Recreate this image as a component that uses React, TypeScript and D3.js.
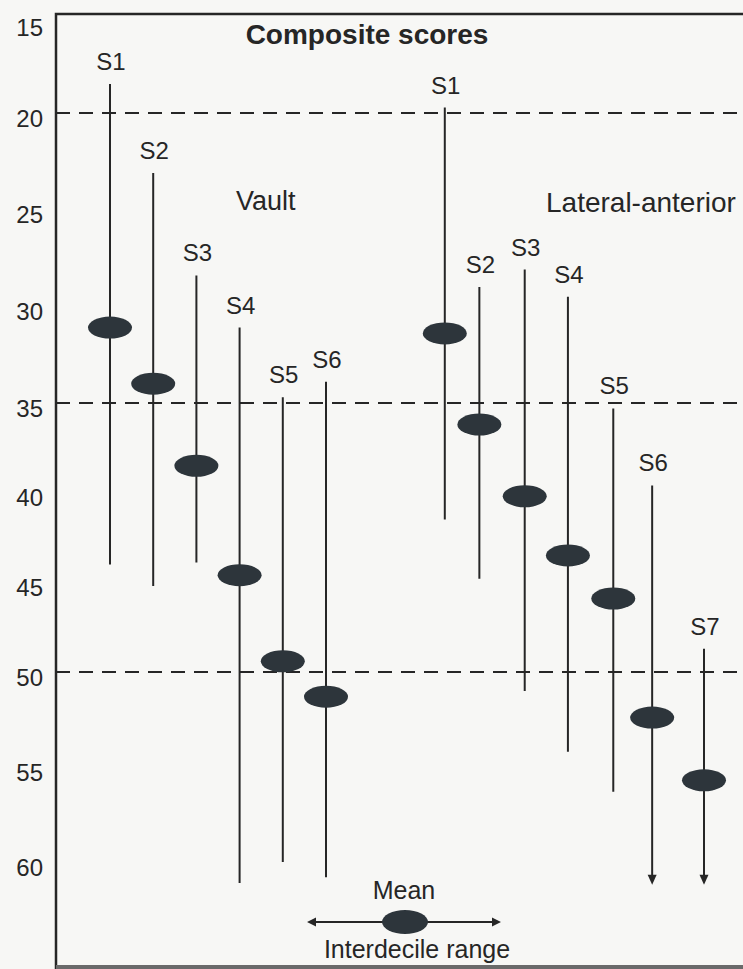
import React, { useRef, useEffect } from "react";
import * as d3 from "d3";

// Vault group
const vaultNames = ["S1", "S2", "S3", "S4", "S5", "S6"];
const vaultSlots = [1, 2, 3, 4, 5, 6];
const vaultTop = [18.4, 23.1, 28.4, 31.1, 34.7, 33.9];
const vaultMean = [31.1, 34.0, 38.5, 44.6, 49.4, 51.3];
const vaultBottom = [44.0, 45.2, 43.9, 61.1, 60.0, 60.8];

// Lateral-anterior group
const lateralNames = ["S1", "S2", "S3", "S4", "S5", "S6", "S7"];
const lateralSlots = [8.75, 9.55, 10.6, 11.6, 12.65, 13.55, 14.75];
const lateralTop = [19.7, 29.0, 28.1, 29.5, 35.3, 39.6, 48.7];
const lateralMean = [31.4, 36.2, 40.2, 43.5, 45.9, 52.4, 55.7];
const lateralBottom = [41.5, 44.8, 51.0, 54.2, 56.3, 61.2, 61.2];
const lateralOpen = [false, false, false, false, false, true, true];

const yTicks = [15, 20, 25, 30, 35, 40, 45, 50, 55, 60];
const refLines = [20, 35, 50];
// scanned axis is slightly uneven, so the scale is piecewise
const yBreaks = [15, 20, 35, 50, 60];

const W = 743;
const H = 969;
const INK = "#262626";
const FONT = "'Liberation Sans', Arial, Helvetica, sans-serif";

const App = () => {
  const ref = useRef(null);

  useEffect(() => {
    document.body.style.margin = "0";
    const svg = d3.select(ref.current);
    svg.selectAll("*").remove();

    const y = d3.scaleLinear().domain(yBreaks).range([22, 113, 403, 672, 862]);
    const x = d3.scaleLinear().domain([1, 6]).range([110, 326]);
    const frameLeft = 56;

    svg.append("rect").attr("width", W).attr("height", H).attr("fill", "#f7f7f5");

    // frame
    svg
      .append("path")
      .attr("d", `M${frameLeft},${H} V14 H${W + 5}`)
      .attr("fill", "none")
      .attr("stroke", INK)
      .attr("stroke-width", 2.5);
    svg
      .append("line")
      .attr("x1", frameLeft)
      .attr("x2", W)
      .attr("y1", H - 2)
      .attr("y2", H - 2)
      .attr("stroke", "#6a6a6a")
      .attr("stroke-width", 4);

    // tick labels
    svg
      .selectAll(".tick")
      .data(yTicks)
      .enter()
      .append("text")
      .attr("x", 43)
      .attr("y", (d) => y(d) + 5)
      .attr("dy", "0.36em")
      .attr("text-anchor", "end")
      .style("font-family", FONT)
      .style("font-size", "24px")
      .attr("fill", INK)
      .text((d) => d);

    // dashed reference lines
    svg
      .selectAll(".ref")
      .data(refLines)
      .enter()
      .append("line")
      .attr("x1", frameLeft)
      .attr("x2", W)
      .attr("y1", (d) => y(d))
      .attr("y2", (d) => y(d))
      .attr("stroke", INK)
      .attr("stroke-width", 2.2)
      .attr("stroke-dasharray", "14,9");

    // title
    svg
      .append("text")
      .attr("x", 367)
      .attr("y", 44)
      .attr("text-anchor", "middle")
      .style("font-family", FONT)
      .style("font-size", "28px")
      .style("font-weight", "bold")
      .attr("fill", INK)
      .text("Composite scores");

    svg
      .append("text")
      .attr("x", 236)
      .attr("y", 210)
      .style("font-family", FONT)
      .style("font-size", "27px")
      .attr("fill", INK)
      .text("Vault");

    svg
      .append("text")
      .attr("x", 546)
      .attr("y", 212)
      .style("font-family", FONT)
      .style("font-size", "28px")
      .attr("fill", INK)
      .text("Lateral-anterior");

    const vault = vaultNames.map((name, i) => ({
      name,
      slot: vaultSlots[i],
      top: vaultTop[i],
      mean: vaultMean[i],
      bottom: vaultBottom[i],
      open: false,
    }));
    const lateral = lateralNames.map((name, i) => ({
      name,
      slot: lateralSlots[i],
      top: lateralTop[i],
      mean: lateralMean[i],
      bottom: lateralBottom[i],
      open: lateralOpen[i],
    }));
    const all = vault.concat(lateral);

    const g = svg.append("g");

    // interdecile range
    g.selectAll(".range")
      .data(all)
      .enter()
      .append("line")
      .attr("x1", (d) => x(d.slot))
      .attr("x2", (d) => x(d.slot))
      .attr("y1", (d) => y(d.top))
      .attr("y2", (d) => y(d.bottom) - (d.open ? 6 : 0))
      .attr("stroke", INK)
      .attr("stroke-width", 2);

    // arrow heads for ranges running off the scale
    g.selectAll(".arrow")
      .data(all.filter((d) => d.open))
      .enter()
      .append("path")
      .attr("d", (d) => {
        const cx = x(d.slot);
        const ty = y(d.bottom);
        return `M${cx - 4.5},${ty - 10} L${cx + 4.5},${ty - 10} L${cx},${ty} Z`;
      })
      .attr("fill", INK);

    // means
    g.selectAll(".mean")
      .data(all)
      .enter()
      .append("ellipse")
      .attr("cx", (d) => x(d.slot))
      .attr("cy", (d) => y(d.mean))
      .attr("rx", 22)
      .attr("ry", 11)
      .attr("fill", "#2d353b");

    // series labels
    g.selectAll(".label")
      .data(all)
      .enter()
      .append("text")
      .attr("x", (d) => x(d.slot) + 1)
      .attr("y", (d) => y(d.top) - 14)
      .attr("text-anchor", "middle")
      .style("font-family", FONT)
      .style("font-size", "24px")
      .attr("fill", INK)
      .text((d) => d.name);

    // key
    const key = svg.append("g");
    key
      .append("text")
      .attr("x", 404)
      .attr("y", 899)
      .attr("text-anchor", "middle")
      .style("font-family", FONT)
      .style("font-size", "25px")
      .attr("fill", INK)
      .text("Mean");
    key
      .append("line")
      .attr("x1", 314)
      .attr("x2", 494)
      .attr("y1", 922)
      .attr("y2", 922)
      .attr("stroke", INK)
      .attr("stroke-width", 1.8);
    key
      .append("path")
      .attr("d", "M307,922 L316,917.5 L316,926.5 Z M501,922 L492,917.5 L492,926.5 Z")
      .attr("fill", INK);
    key
      .append("ellipse")
      .attr("cx", 405)
      .attr("cy", 922)
      .attr("rx", 23)
      .attr("ry", 12)
      .attr("fill", "#2d353b");
    key
      .append("text")
      .attr("x", 417)
      .attr("y", 958)
      .attr("text-anchor", "middle")
      .style("font-family", FONT)
      .style("font-size", "25px")
      .attr("fill", INK)
      .text("Interdecile range");
  }, []);

  return <svg ref={ref} width={W} height={H} style={{ display: "block" }} />;
};

export default App;
